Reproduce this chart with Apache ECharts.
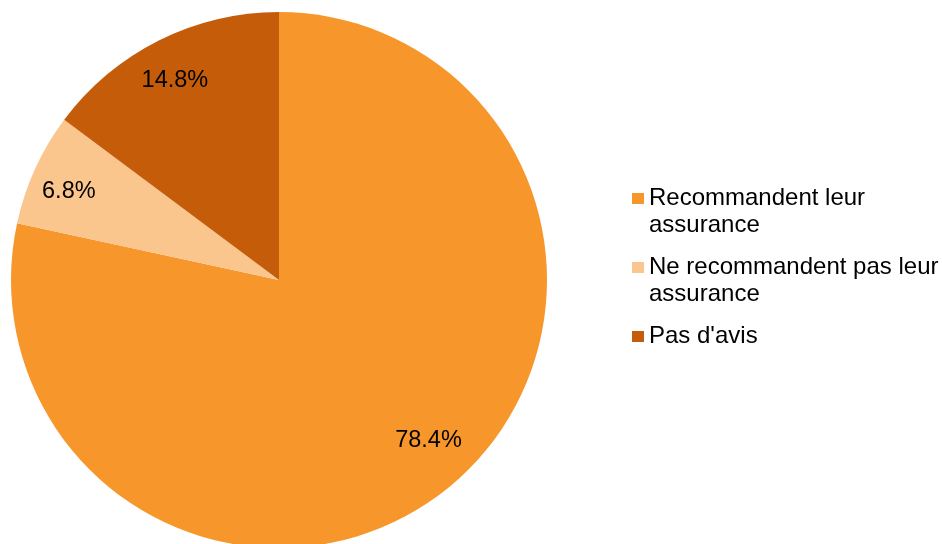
<!DOCTYPE html>
<html>
<head>
<meta charset="utf-8">
<script src="https://cdn.jsdelivr.net/npm/echarts@6/dist/echarts.min.js"></script>
<style>
  html, body { margin: 0; padding: 0; background: #ffffff; }
  #chart { width: 942px; height: 544px; }
</style>
</head>
<body>
<div id="chart"></div>
<script>
// Survey answers: share of respondents (%)
const categories = [
  'Recommandent leur\nassurance',
  'Ne recommandent pas leur\nassurance',
  "Pas d'avis"
];
const values = [78.4, 6.8, 14.8];
const colors = ['#F7962A', '#FAC68E', '#C55C0A'];

const FONT = '"Liberation Sans", Arial, sans-serif';
const CENTER = [279, 280];
const R = 268;

// Legend markers: square sitting on the first text line of two-line entries
const squareTop = 'path://M0,0H12V11H0Z M12,38';
const square = 'path://M0,0H12V11H0Z';

// small nudges of the percentage labels away from the exact mid-angle
const labelNudge = [[8, -15], [-5, 5], [-3, 2]];

const pieData = categories.map((name, i) => ({
  name: name,
  value: values[i],
  itemStyle: { color: colors[i] }
}));

const chart = echarts.init(document.getElementById('chart'), null, { renderer: 'canvas' });

chart.setOption({
  backgroundColor: '#ffffff',
  animation: false,
  legend: {
    orient: 'vertical',
    left: 632,
    top: 185,
    padding: 0,
    itemGap: 15,
    itemWidth: 12,
    itemHeight: 38,
    icon: squareTop,
    selectedMode: false,
    textStyle: {
      fontFamily: FONT,
      fontSize: 24,
      lineHeight: 27,
      color: '#000000'
    },
    data: [
      { name: categories[0] },
      { name: categories[1] },
      { name: categories[2], icon: square }
    ]
  },
  series: [
    {
      type: 'pie',
      center: CENTER,
      radius: [0, R],
      startAngle: 90,
      clockwise: true,
      silent: true,
      label: { show: false },
      labelLine: { show: false },
      emphasis: { disabled: true },
      data: pieData
    },
    {
      // transparent ring that carries the percentage labels near the rim
      type: 'pie',
      center: CENTER,
      radius: [R * 0.66, R],
      startAngle: 90,
      clockwise: true,
      silent: true,
      itemStyle: { color: 'rgba(0,0,0,0)' },
      emphasis: { disabled: true },
      labelLine: { show: false },
      label: {
        show: true,
        position: 'inside',
        fontFamily: FONT,
        fontSize: 23.5,
        color: '#000000',
        formatter: p => p.value.toFixed(1) + '%'
      },
      labelLayout: p => ({ dx: labelNudge[p.dataIndex][0], dy: labelNudge[p.dataIndex][1] }),
      data: categories.map((name, i) => ({ name: name, value: values[i] }))
    }
  ]
});
</script>
</body>
</html>
